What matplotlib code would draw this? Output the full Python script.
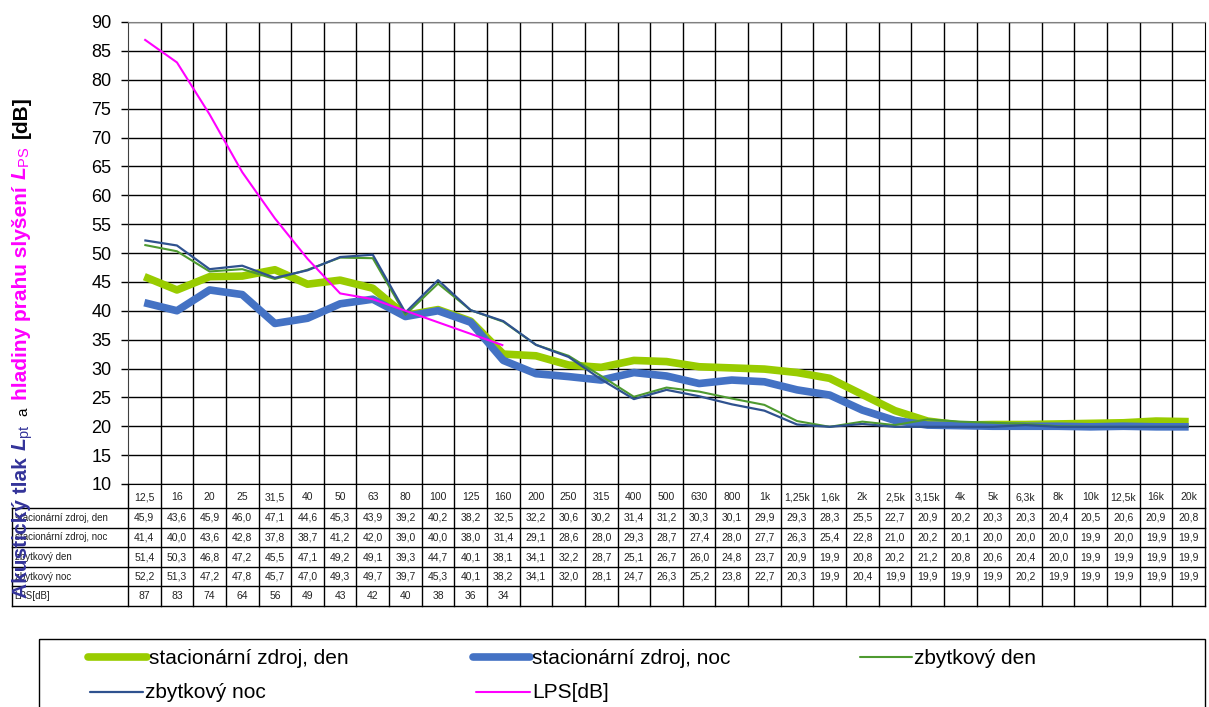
import numpy as np
import matplotlib
matplotlib.use('Agg')
import matplotlib.pyplot as plt
from matplotlib.patches import Rectangle

plt.rcParams['font.family'] = ['Liberation Sans', 'DejaVu Sans']
plt.rcParams['mathtext.fontset'] = 'custom'
plt.rcParams['mathtext.it'] = 'Liberation Sans:italic:bold'
plt.rcParams['mathtext.rm'] = 'Liberation Sans'
plt.rcParams['mathtext.bf'] = 'Liberation Sans:bold'

# tercinova pasma
freq = ['12,5', '16', '20', '25', '31,5', '40', '50', '63', '80', '100', '125', '160',
        '200', '250', '315', '400', '500', '630', '800', '1k', '1,25k', '1,6k', '2k',
        '2,5k', '3,15k', '4k', '5k', '6,3k', '8k', '10k', '12,5k', '16k', '20k']

stac_den = [45.9, 43.6, 45.9, 46.0, 47.1, 44.6, 45.3, 43.9, 39.2, 40.2, 38.2, 32.5,
            32.2, 30.6, 30.2, 31.4, 31.2, 30.3, 30.1, 29.9, 29.3, 28.3, 25.5, 22.7,
            20.9, 20.2, 20.3, 20.3, 20.4, 20.5, 20.6, 20.9, 20.8]
stac_noc = [41.4, 40.0, 43.6, 42.8, 37.8, 38.7, 41.2, 42.0, 39.0, 40.0, 38.0, 31.4,
            29.1, 28.6, 28.0, 29.3, 28.7, 27.4, 28.0, 27.7, 26.3, 25.4, 22.8, 21.0,
            20.2, 20.1, 20.0, 20.0, 20.0, 19.9, 20.0, 19.9, 19.9]
zbyt_den = [51.4, 50.3, 46.8, 47.2, 45.5, 47.1, 49.2, 49.1, 39.3, 44.7, 40.1, 38.1,
            34.1, 32.2, 28.7, 25.1, 26.7, 26.0, 24.8, 23.7, 20.9, 19.9, 20.8, 20.2,
            21.2, 20.8, 20.6, 20.4, 20.0, 19.9, 19.9, 19.9, 19.9]
zbyt_noc = [52.2, 51.3, 47.2, 47.8, 45.7, 47.0, 49.3, 49.7, 39.7, 45.3, 40.1, 38.2,
            34.1, 32.0, 28.1, 24.7, 26.3, 25.2, 23.8, 22.7, 20.3, 19.9, 20.4, 19.9,
            19.9, 19.9, 19.9, 20.2, 19.9, 19.9, 19.9, 19.9, 19.9]
lps = [87, 83, 74, 64, 56, 49, 43, 42, 40, 38, 36, 34]

names = ['stacionární zdroj, den', 'stacionární zdroj, noc', 'zbytkový den',
         'zbytkový noc', 'LPS[dB]']
series = [stac_den, stac_noc, zbyt_den, zbyt_noc, lps]
styles = [dict(color='#99CC00', lw=5.5),
          dict(color='#4472C4', lw=5.5),
          dict(color='#4E9A30', lw=1.5),
          dict(color='#2F528F', lw=1.6),
          dict(color='#FF00FF', lw=1.5)]

W, H = 1209, 707
fig = plt.figure(figsize=(W / 100, H / 100), dpi=100)


def px(x0, y0, x1, y1):
    return [x0 / W, 1 - y1 / H, (x1 - x0) / W, (y1 - y0) / H]


# graf
ax = fig.add_axes(px(128, 22, 1205, 484))
n = len(freq)
xs = np.arange(n)
ax.set_xlim(-0.5, n - 0.5)
ax.set_ylim(10, 90)
ax.set_yticks(np.arange(10, 91, 5))
ax.set_xticks([])
ax.set_xticks(np.arange(0.5, n - 1, 1), minor=True)
ax.tick_params(axis='y', labelsize=13, length=5, width=1, pad=7)
ax.tick_params(axis='x', which='minor', length=0)
ax.grid(True, which='minor', axis='x', color='black', lw=1)
ax.grid(True, which='major', axis='y', color='black', lw=1)
ax.set_axisbelow(True)
ax.spines['top'].set_color('#808080')
ax.spines['left'].set_color('#404040')
for s, st in zip(series, styles):
    ax.plot(xs[:len(s)], s, solid_joinstyle='round', solid_capstyle='butt', zorder=3, **st)

# tabulka
lab_w = (128 - 12) / ((1205 - 128) / n)
x_left = -0.5 - lab_w
tab = fig.add_axes(px(12, 484, 1205, 606))
tab.set_xlim(x_left, n - 0.5)
tab.set_ylim(606, 484)
tab.axis('off')
rows = [484, 508, 527.6, 547.2, 566.8, 586.4, 606]
for k in range(n + 1):
    tab.plot([k - 0.5, k - 0.5], [rows[0], rows[-1]], color='black', lw=1, clip_on=False)
tab.plot([x_left, x_left], [rows[1], rows[-1]], color='black', lw=1, clip_on=False)
for r in rows[1:]:
    tab.plot([x_left, n - 0.5], [r, r], color='black', lw=1, clip_on=False)
for i, f in enumerate(freq):
    tab.text(i, (rows[0] + rows[1]) / 2 + 1, f, ha='center', va='center', fontsize=7.5,
             color='#222222')
for j, (name, s) in enumerate(zip(names, series)):
    yc = (rows[j + 1] + rows[j + 2]) / 2
    tab.text(x_left + 0.08, yc, name, ha='left', va='center', fontsize=7, color='#222222')
    for i, v in enumerate(s):
        txt = str(v) if isinstance(v, int) else ('%.1f' % v).replace('.', ',')
        tab.text(i, yc, txt, ha='center', va='center', fontsize=7.5, color='#222222')

# legenda a popisek osy
ov = fig.add_axes([0, 0, 1, 1])
ov.set_xlim(0, W)
ov.set_ylim(H, 0)
ov.axis('off')
ov.add_patch(Rectangle((39, 639), 1166, 90, fill=False, ec='black', lw=1))
leg_pos = [(88, 147, 657), (473, 530, 657), (860, 912, 657), (90, 143, 692), (476, 530, 692)]
for (x0, x1, y), name, st in zip(leg_pos, names, styles):
    ov.plot([x0, x1], [y, y], solid_capstyle='round', **st)
    ov.text(x1 + 2, y + 1, name, ha='left', va='center', fontsize=15, color='black')

blue, mag = '#333399', '#FF00FF'
pieces = [('Akustický tlak', blue, 15, 'bold', 6),
          (r'$L_{\mathrm{pt}}$', blue, 15, 'bold', 8),
          ('a', 'black', 11, 'normal', 8),
          ('hladiny prahu slyšení', mag, 15, 'bold', 6),
          (r'$L_{\mathrm{PS}}$', mag, 15, 'bold', 8),
          ('[dB]', 'black', 15, 'bold', 0)]
renderer = fig.canvas.get_renderer()
y = 598
for txt, c, fs, fw, gap in pieces:
    t = ov.text(27, y, txt, rotation=90, rotation_mode='anchor', ha='left', va='baseline',
                color=c, fontsize=fs, fontweight=fw)
    bb = t.get_window_extent(renderer)
    y = H - bb.y1 - gap

fig.savefig('out.png', dpi=100)
